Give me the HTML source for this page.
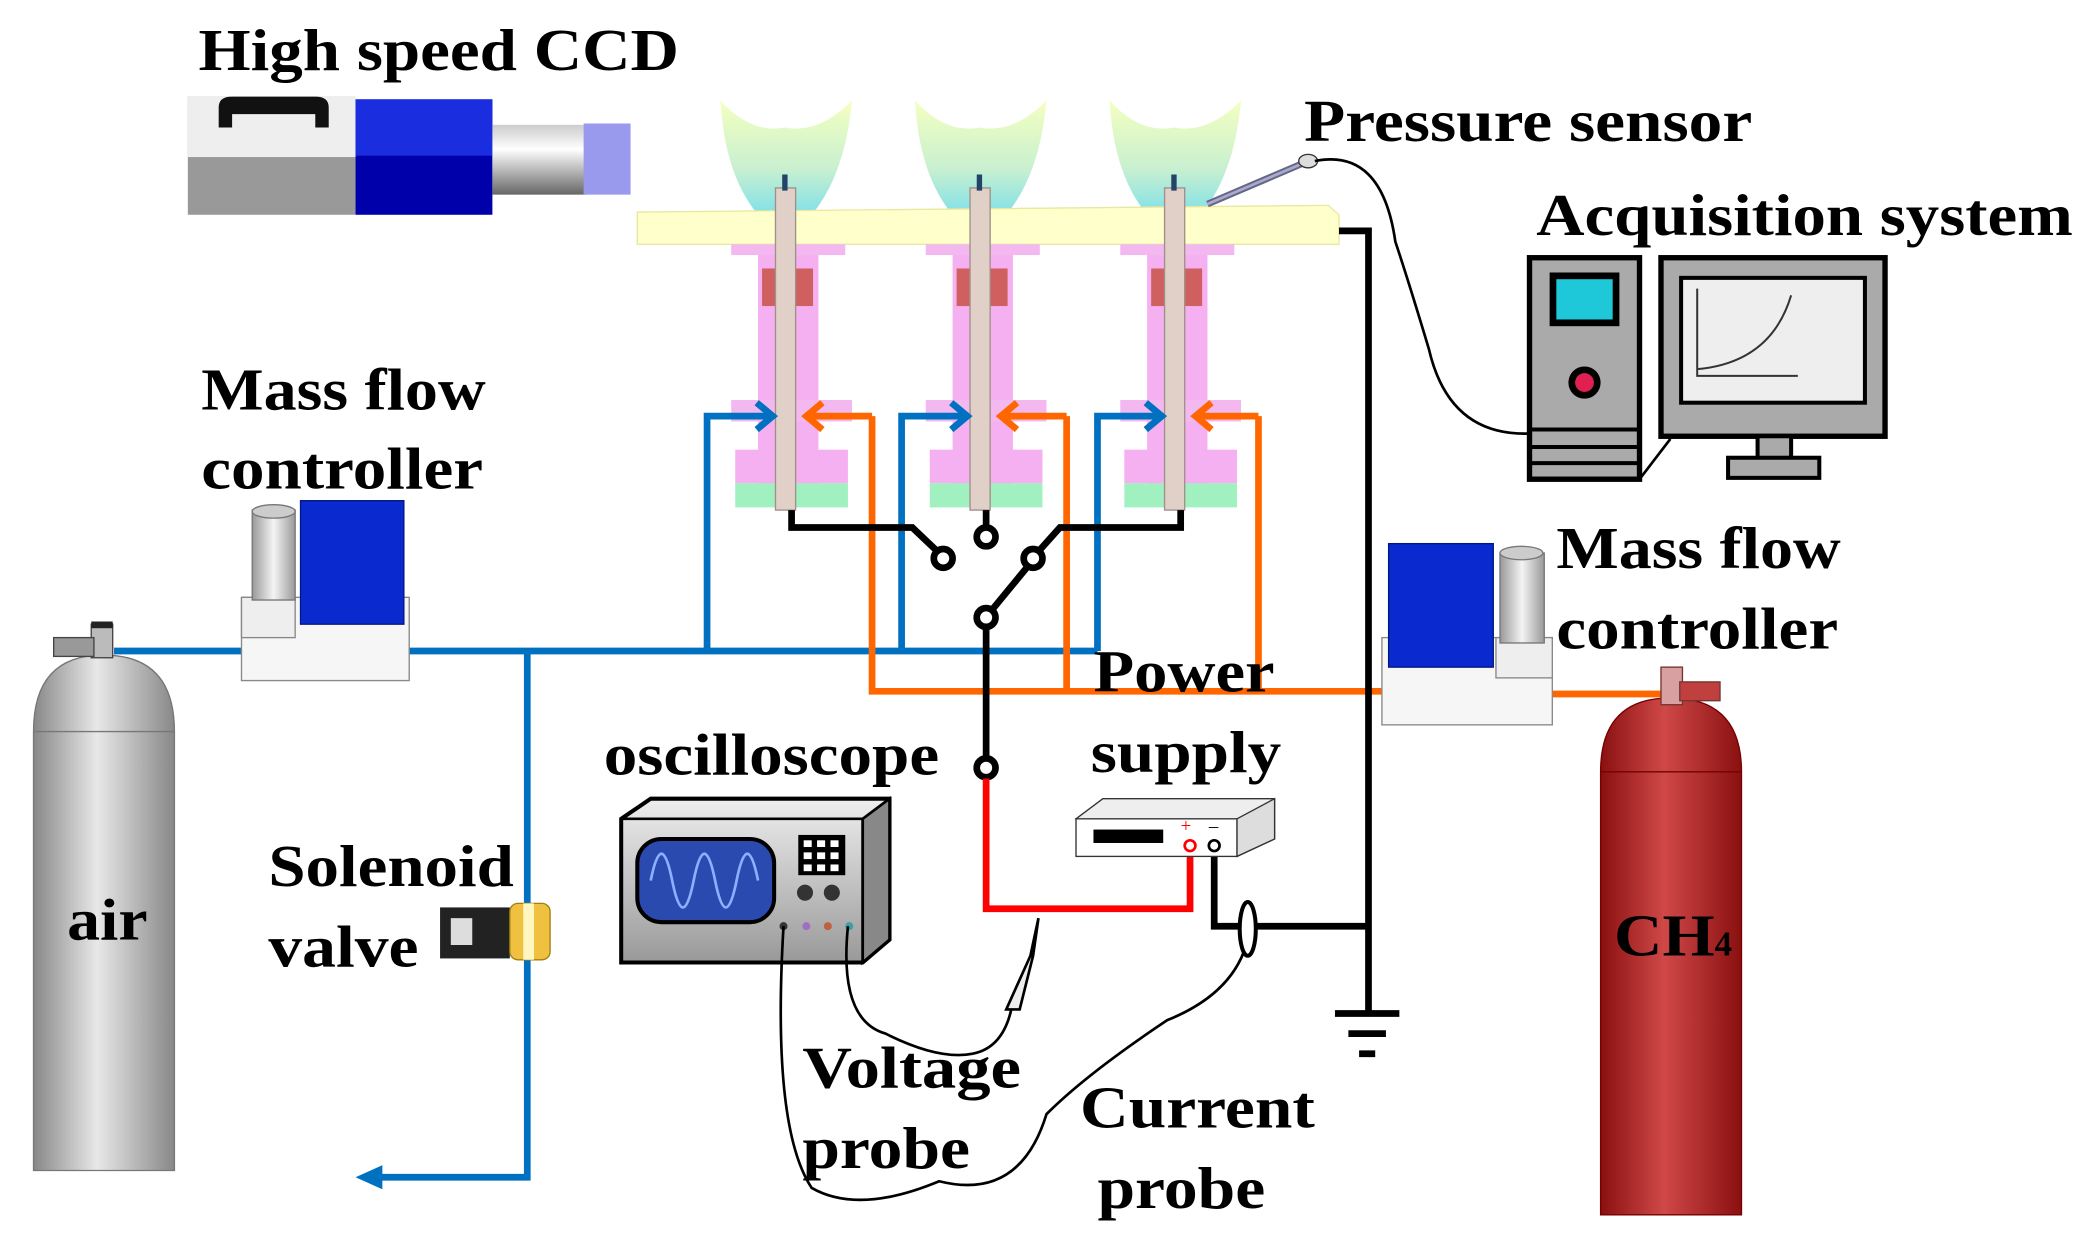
<!DOCTYPE html>
<html><head><meta charset="utf-8"><style>
html,body{margin:0;padding:0;background:#fff;width:2093px;height:1243px;overflow:hidden}
svg{display:block}
text{font-family:"Liberation Serif",serif;font-weight:bold;fill:#000}
</style></head><body>
<svg width="2093" height="1243" viewBox="0 0 1560 926" preserveAspectRatio="none" xmlns="http://www.w3.org/2000/svg">
<defs>
<linearGradient id="flame" x1="0" y1="0" x2="0" y2="1"><stop offset="0" stop-color="#f4ffc0"/><stop offset="0.6" stop-color="#c8f0d0"/><stop offset="1" stop-color="#80e0e8"/></linearGradient>
<linearGradient id="lens" x1="0" y1="0" x2="0" y2="1"><stop offset="0" stop-color="#ccc"/><stop offset="0.35" stop-color="#fff"/><stop offset="1" stop-color="#666"/></linearGradient>
<linearGradient id="cylg" x1="0" y1="0" x2="1" y2="0"><stop offset="0" stop-color="#888"/><stop offset="0.45" stop-color="#e8e8e8"/><stop offset="1" stop-color="#888"/></linearGradient>
<linearGradient id="cylr" x1="0" y1="0" x2="1" y2="0"><stop offset="0" stop-color="#8a1010"/><stop offset="0.45" stop-color="#d04848"/><stop offset="1" stop-color="#8a1010"/></linearGradient>
<linearGradient id="mfcc" x1="0" y1="0" x2="1" y2="0"><stop offset="0" stop-color="#999"/><stop offset="0.5" stop-color="#f4f4f4"/><stop offset="1" stop-color="#999"/></linearGradient>
<linearGradient id="osc" x1="0" y1="0" x2="0" y2="1"><stop offset="0" stop-color="#eee"/><stop offset="1" stop-color="#999"/></linearGradient>
</defs>

<!-- camera -->
<rect x="140" y="72" width="125" height="88" fill="#999"/>
<rect x="140" y="72" width="125" height="45" fill="#eee"/>
<path d="M163 95 v-15 q0-8 10-8 h62 q10 0 10 8 v15 h-10 v-10 h-62 v10z" fill="#111"/>
<rect x="265" y="74" width="102" height="86" fill="#0000aa"/>
<rect x="265" y="74" width="102" height="42" fill="#1a2ee0"/>
<rect x="367" y="93" width="70" height="52" fill="url(#lens)"/>
<rect x="435" y="92" width="35" height="53" fill="#9999ee"/>

<!-- flames -->
<g fill="url(#flame)">
<path d="M537 75 Q560 100 585 95 Q610 100 635 75 Q630 130 605 160 L565 160 Q540 130 537 75z"/>
<path d="M682 75 Q705 100 730 95 Q755 100 780 75 Q775 130 750 160 L710 160 Q685 130 682 75z"/>
<path d="M827 75 Q850 100 875 95 Q900 100 925 75 Q920 130 895 160 L855 160 Q830 130 827 75z"/>
</g>
<!-- plate -->
<path d="M475 158 L990 153 L998 160 L998 182 L475 182z" fill="#ffffcc" stroke="#e8e8a0"/>

<!-- burners -->
<g id="b1">
<rect x="545" y="182" width="85" height="8" fill="#f4b8f0"/>
<rect x="565" y="190" width="45" height="175" fill="#f4b0f0"/>
<rect x="545" y="298" width="90" height="16" fill="#f4b8f0"/>
<rect x="548" y="335" width="84" height="25" fill="#f4b0f0"/>
<rect x="548" y="360" width="84" height="18" fill="#a0f0c0"/>
<rect x="568" y="200" width="38" height="28" fill="#d06060"/>
<rect x="578" y="140" width="15" height="240" fill="#e0d0c8" stroke="#a09088" stroke-width="1"/>
<rect x="583" y="130" width="4" height="12" fill="#246"/>
</g>
<use href="#b1" x="145"/>
<use href="#b1" x="290"/>

<!-- blue gas lines -->
<g stroke="#0070c0" stroke-width="5" fill="none">
<path d="M85 485 H818"/>
<path d="M527 485 V310 H572"/><path d="M672 485 V310 H717"/><path d="M818 485 V310 H862"/>
<path d="M393 485 V877 H280"/>
<path d="M564 300 L576 310 L564 320"/><path d="M709 300 L721 310 L709 320"/><path d="M854 300 L866 310 L854 320"/>
</g>
<path d="M265 877 L285 868 L285 886z" fill="#0070c0"/>
<!-- orange lines -->
<g stroke="#ff6600" stroke-width="5" fill="none">
<path d="M650 310 V515 H1030"/><path d="M795 310 V515"/><path d="M938 310 V515"/>
<path d="M605 310 H650"/><path d="M750 310 H795"/><path d="M895 310 H938"/>
<path d="M1157 517 H1240"/>
<path d="M613 300 L601 310 L613 320"/><path d="M758 300 L746 310 L758 320"/><path d="M903 300 L891 310 L903 320"/>
</g>

<!-- switch -->
<g stroke="#000" stroke-width="5" fill="none">
<path d="M590 380 V393 H680 L700 412"/>
<path d="M880 380 V393 H790 L773 412"/>
<path d="M735 380 V392"/>
<path d="M738 456 L766 422"/>
<path d="M735 468 V564"/>
<circle cx="703" cy="416" r="7" fill="#fff"/><circle cx="735" cy="400" r="7" fill="#fff"/>
<circle cx="770" cy="416" r="7" fill="#fff"/><circle cx="735" cy="460" r="7" fill="#fff"/>
<circle cx="735" cy="572" r="7" fill="#fff"/>
<path d="M998 172 H1020 V755"/>
<path d="M995 755 H1043 M1005 770 H1033 M1013 785 H1025"/>
<path d="M905 632 V690 H1020"/>
</g>
<path d="M735 580 V677 H887 V633" stroke="#ff0000" stroke-width="5" fill="none"/>

<!-- power supply -->
<path d="M802 610 L822 595 L950 595 L950 625 L922 638 Z" fill="#eee" stroke="#333"/>
<rect x="802" y="610" width="120" height="28" fill="#fff" stroke="#333"/>
<path d="M922 610 L950 595 L950 625 L922 638z" fill="#ddd" stroke="#333"/>
<rect x="815" y="618" width="52" height="10" fill="#000"/>
<circle cx="887" cy="630" r="4" fill="#fff" stroke="#f00" stroke-width="2"/>
<circle cx="905" cy="630" r="4" fill="#fff" stroke="#000" stroke-width="2"/>
<text x="880" y="620" style="font-size:14px;fill:#f00;font-weight:normal">+</text>
<text x="901" y="620" style="font-size:14px;font-weight:normal">–</text>

<!-- oscilloscope -->
<path d="M463 610 L485 595 L663 595 L663 700 L643 717 L463 717Z" fill="url(#osc)" stroke="#000" stroke-width="3"/>
<path d="M643 610 L663 595 L663 700 L643 717z" fill="#888" stroke="#000" stroke-width="2"/>
<path d="M463 610 H643 V717" fill="none" stroke="#000" stroke-width="2"/>
<rect x="475" y="625" width="102" height="62" rx="18" fill="#2a4ab0" stroke="#000" stroke-width="3"/>
<path d="M485 656 q8 -40 16 0 t16 0 t16 0 t16 0 t16 0" stroke="#8ab0ff" stroke-width="2" fill="none"/>
<rect x="595" y="622" width="35" height="30" fill="#000"/>
<g fill="#fff"><rect x="599" y="626" width="6" height="5"/><rect x="609" y="626" width="6" height="5"/><rect x="619" y="626" width="6" height="5"/><rect x="599" y="635" width="6" height="5"/><rect x="609" y="635" width="6" height="5"/><rect x="619" y="635" width="6" height="5"/><rect x="599" y="644" width="6" height="5"/><rect x="609" y="644" width="6" height="5"/><rect x="619" y="644" width="6" height="5"/></g>
<circle cx="600" cy="665" r="6" fill="#333"/><circle cx="620" cy="665" r="6" fill="#333"/>
<circle cx="584" cy="690" r="3" fill="#333"/><circle cx="601" cy="690" r="3" fill="#a070c0"/><circle cx="617" cy="690" r="3" fill="#c06040"/><circle cx="633" cy="690" r="3" fill="#40a0a0"/>

<!-- probes wires -->
<g stroke="#000" stroke-width="2" fill="none">
<path d="M584 690 Q575 840 605 885 Q640 905 700 880 Q760 895 780 830 Q810 800 870 760 Q920 740 930 700"/>
<path d="M632 690 Q625 760 660 770 Q700 790 725 785 Q750 780 755 745"/>
</g>
<path d="M750 752 L760 752 L770 712 L774 684 L768 712 Z" fill="#eee" stroke="#000" stroke-width="2"/>
<ellipse cx="930" cy="692" rx="6" ry="20" fill="#fff" stroke="#000" stroke-width="3"/>

<!-- pressure sensor -->
<path d="M900 152 L975 120" stroke="#668" stroke-width="5"/>
<path d="M900 152 L975 120" stroke="#aac" stroke-width="2"/>
<ellipse cx="975" cy="120" rx="7" ry="5" fill="#ddd" stroke="#333"/>
<path d="M980 120 Q1030 110 1040 180 Q1050 210 1065 260 Q1080 325 1140 323" stroke="#000" stroke-width="2" fill="none"/>

<!-- computer -->
<rect x="1140" y="192" width="82" height="165" fill="#aaa" stroke="#000" stroke-width="4"/>
<rect x="1155" y="203" width="52" height="40" fill="#000"/>
<rect x="1160" y="208" width="42" height="30" fill="#1ec8d8"/>
<circle cx="1181" cy="285" r="12" fill="#000"/><circle cx="1181" cy="285" r="7" fill="#e02050"/>
<path d="M1140 320 H1222 M1140 333 H1222 M1140 345 H1222" stroke="#000" stroke-width="3"/>
<rect x="1238" y="192" width="167" height="133" fill="#aaa" stroke="#000" stroke-width="4"/>
<rect x="1253" y="207" width="137" height="93" fill="#eee" stroke="#000" stroke-width="3"/>
<path d="M1265 215 V280 H1340 M1265 275 Q1320 270 1335 220" stroke="#333" stroke-width="1.5" fill="none"/>
<rect x="1310" y="325" width="25" height="18" fill="#aaa" stroke="#000" stroke-width="3"/>
<rect x="1288" y="341" width="68" height="15" fill="#aaa" stroke="#000" stroke-width="3"/>
<path d="M1222 357 L1245 327" stroke="#000" stroke-width="2"/>

<!-- MFC left -->
<rect x="180" y="445" width="125" height="62" fill="#f6f6f6" stroke="#888"/>
<rect x="180" y="445" width="40" height="30" fill="#eee" stroke="#888"/>
<rect x="188" y="380" width="32" height="67" fill="url(#mfcc)" stroke="#777"/>
<ellipse cx="204" cy="381" rx="16" ry="5" fill="#ccc" stroke="#777"/>
<rect x="224" y="373" width="77" height="92" fill="#0a2ad0" stroke="#001880"/>
<!-- MFC right -->
<rect x="1030" y="475" width="127" height="65" fill="#f6f6f6" stroke="#888"/>
<rect x="1115" y="475" width="42" height="30" fill="#eee" stroke="#888"/>
<rect x="1118" y="412" width="33" height="67" fill="url(#mfcc)" stroke="#777"/>
<ellipse cx="1134" cy="412" rx="16" ry="5" fill="#ccc" stroke="#777"/>
<rect x="1035" y="405" width="78" height="92" fill="#0a2ad0" stroke="#001880"/>

<!-- air cylinder -->
<path d="M25 545 Q25 488 77 488 Q130 488 130 545 V872 H25Z" fill="url(#cylg)" stroke="#777"/>
<path d="M25 545 H130" stroke="#777"/>
<rect x="68" y="465" width="16" height="25" fill="#bbb" stroke="#444"/>
<rect x="40" y="475" width="30" height="14" fill="#999" stroke="#444"/>
<rect x="68" y="463" width="16" height="5" fill="#222"/>
<!-- CH4 cylinder -->
<path d="M1193 575 Q1193 520 1245 520 Q1298 520 1298 575 V905 H1193Z" fill="url(#cylr)" stroke="#700"/>
<path d="M1193 575 H1298" stroke="#700"/>
<rect x="1238" y="497" width="16" height="28" fill="#d8a0a0" stroke="#733"/>
<rect x="1252" y="508" width="30" height="14" fill="#c04040" stroke="#733"/>

<!-- solenoid valve -->
<rect x="328" y="676" width="52" height="38" fill="#222"/>
<rect x="336" y="684" width="16" height="20" fill="#ddd"/>
<rect x="380" y="673" width="30" height="42" rx="6" fill="#f0c040" stroke="#a08010"/>
<rect x="390" y="673" width="8" height="42" fill="#fff6c0"/>

<!-- labels -->
<g style="font-size:44px">
<text x="148" y="52" textLength="358" lengthAdjust="spacingAndGlyphs">High speed CCD</text>
<text x="972" y="105" textLength="334" lengthAdjust="spacingAndGlyphs">Pressure sensor</text>
<text x="1145" y="175" textLength="400" lengthAdjust="spacingAndGlyphs">Acquisition system</text>
<text x="150" y="305" textLength="212" lengthAdjust="spacingAndGlyphs">Mass flow</text>
<text x="150" y="364" textLength="210" lengthAdjust="spacingAndGlyphs">controller</text>
<text x="1160" y="423" textLength="212" lengthAdjust="spacingAndGlyphs">Mass flow</text>
<text x="1160" y="483" textLength="210" lengthAdjust="spacingAndGlyphs">controller</text>
<text x="815" y="515" textLength="135" lengthAdjust="spacingAndGlyphs">Power</text>
<text x="813" y="575" textLength="142" lengthAdjust="spacingAndGlyphs">supply</text>
<text x="450" y="577" textLength="250" lengthAdjust="spacingAndGlyphs">oscilloscope</text>
<text x="200" y="660" textLength="183" lengthAdjust="spacingAndGlyphs">Solenoid</text>
<text x="200" y="720" textLength="112" lengthAdjust="spacingAndGlyphs">valve</text>
<text x="50" y="700" textLength="60" lengthAdjust="spacingAndGlyphs">air</text>
<text x="1203" y="712" textLength="75" lengthAdjust="spacingAndGlyphs">CH</text>
<text x="598" y="810" textLength="163" lengthAdjust="spacingAndGlyphs">Voltage</text>
<text x="598" y="870" textLength="125" lengthAdjust="spacingAndGlyphs">probe</text>
<text x="805" y="840" textLength="175" lengthAdjust="spacingAndGlyphs">Current</text>
<text x="818" y="900" textLength="125" lengthAdjust="spacingAndGlyphs">probe</text>
</g>
<text x="1278" y="712" style="font-size:26px">4</text>
</svg>
</body></html>
